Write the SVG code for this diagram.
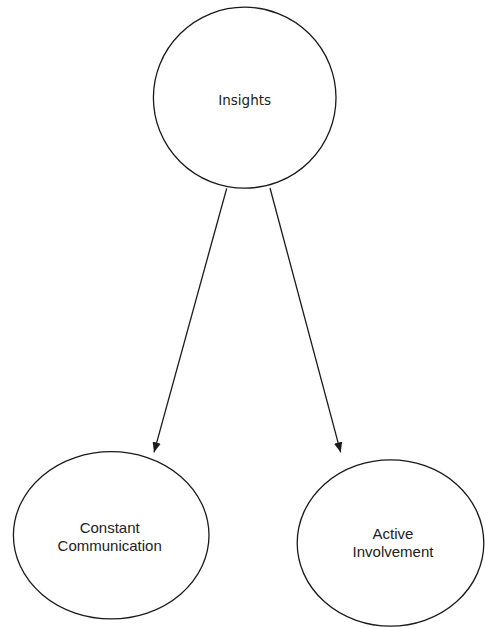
<svg xmlns="http://www.w3.org/2000/svg" width="485" height="627" viewBox="0 0 485 627">
  <style>
    .shape { fill: #ffffff; stroke: #1a1a1a; stroke-width: 1.3; }
    .edge { fill: none; stroke: #1a1a1a; stroke-width: 1.3; }
    .lbl { font-family: "Liberation Sans", Arial, sans-serif; font-size: 15px; fill: #222222; text-anchor: middle; }
    .lbl2 { font-family: "DejaVu Sans", Verdana, sans-serif; font-size: 13.5px; fill: #222222; text-anchor: middle; }
  </style>
  <defs>
    <marker id="arrow" markerUnits="userSpaceOnUse" markerWidth="10" markerHeight="10" viewBox="0 0 10 10" refX="10" refY="5" orient="auto">
      <path d="M0,0.8 L10,5 L0,9.2 Z" fill="#1a1a1a"/>
    </marker>
  </defs>
  <rect width="485" height="627" fill="#ffffff"/>
  <g id="connectors">
    <line class="edge" x1="226.7" y1="188.3" x2="154" y2="452.3" marker-end="url(#arrow)"/>
    <line class="edge" x1="270" y1="188" x2="340.7" y2="452.3" marker-end="url(#arrow)"/>
  </g>
  <g id="node-insights">
    <ellipse class="shape" cx="244.7" cy="97.7" rx="91.3" ry="90.5"/>
    <text class="lbl2" x="244.7" y="104.5">Insights</text>
  </g>
  <g id="node-constant-communication">
    <ellipse class="shape" cx="111.2" cy="535.3" rx="97.8" ry="83.6"/>
    <text class="lbl" x="109.7" y="532.7">Constant</text>
    <text class="lbl" x="109.7" y="551">Communication</text>
  </g>
  <g id="node-active-involvement">
    <ellipse class="shape" cx="390.5" cy="543" rx="93.3" ry="83.2"/>
    <text class="lbl" x="393" y="539">Active</text>
    <text class="lbl" x="393" y="556.7">Involvement</text>
  </g>
</svg>
